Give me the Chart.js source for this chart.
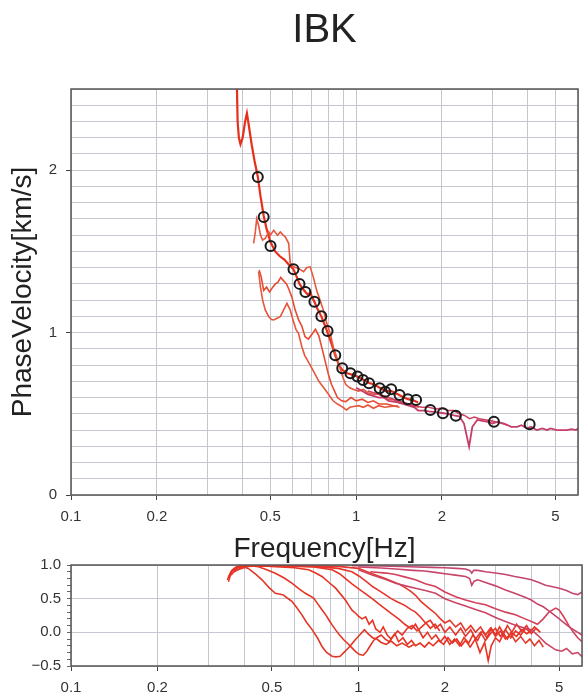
<!DOCTYPE html>
<html><head><meta charset="utf-8">
<script src="https://cdn.jsdelivr.net/npm/chart.js@4"></script>
<style>
html,body{margin:0;padding:0;background:#fff;}
#wrap{position:relative;width:585px;height:700px;overflow:hidden;}
#c1{position:absolute;left:0;top:0;}
#c2{position:absolute;left:0;top:530px;}
</style></head><body>
<div id="wrap"><canvas id="c1" width="585" height="566"></canvas><canvas id="c2" width="585" height="170"></canvas></div>
<script>
// ---------- axis ticks ----------
const xGridValues = [0.1,0.2,0.3,0.4,0.5,0.6,0.7,0.8,0.9,1,2,3,4,5,6];
const xLabeledValues = [0.1,0.2,0.5,1,2,5];
const xTickLabels = ['0.1','0.2','0.5','1','2','5'];
const yTopLabeledValues = [0,1,2];
const yTopTickLabels = ['0','1','2'];
const yBotLabeledValues = [-0.5,0,0.5,1.0];
const yBotTickLabels = ['\u22120.5','0.0','0.5','1.0'];

// ---------- phase velocity: observed points [Hz, km/s] ----------
const observedPoints = [
 [0.452,1.958],[0.474,1.712],[0.501,1.533],[0.603,1.39],[0.633,1.30],[0.664,1.25],[0.714,1.19],
 [0.755,1.10],[0.794,1.01],[0.845,0.86],[0.894,0.78],[0.955,0.749],[1.011,0.729],[1.057,0.708],
 [1.110,0.688],[1.209,0.657],[1.265,0.636],[1.327,0.651],[1.420,0.616],[1.518,0.589],[1.623,0.585],
 [1.821,0.523],[2.015,0.503],[2.237,0.488],[3.043,0.451],[4.06,0.435]
];
// ---------- phase velocity curves [Hz, km/s] ----------
const pvCurveA = [
 [0.382,2.5],[0.384,2.30],[0.388,2.20],[0.393,2.16],[0.40,2.20],[0.408,2.30],[0.414,2.35],[0.42,2.28],
 [0.43,2.16],[0.44,2.06],[0.452,1.96],[0.462,1.84],[0.474,1.72],[0.485,1.64],[0.50,1.56],[0.52,1.50],
 [0.54,1.47],[0.56,1.45],[0.58,1.42],[0.603,1.39],[0.62,1.34],[0.633,1.30],[0.65,1.27],[0.664,1.25],
 [0.68,1.23],[0.69,1.25],[0.70,1.22],[0.714,1.19],[0.73,1.15],[0.755,1.10],[0.775,1.05],[0.794,1.00],
 [0.82,0.93],[0.845,0.86],[0.87,0.80],[0.894,0.77],[0.93,0.75],[0.97,0.74],[1.01,0.73],[1.06,0.71],
 [1.11,0.69],[1.16,0.68],[1.21,0.66],[1.27,0.64],[1.33,0.64],[1.40,0.62],[1.47,0.60],[1.52,0.59],
 [1.60,0.58],[1.65,0.57]
];
const pvCurveB = [
 [0.437,1.55],[0.443,1.62],[0.448,1.70],[0.455,1.66],[0.462,1.60],[0.47,1.57],[0.48,1.58],[0.494,1.62],
 [0.50,1.60],[0.514,1.63],[0.53,1.60],[0.542,1.62],[0.555,1.60],[0.564,1.59],[0.58,1.55],[0.587,1.43],
 [0.603,1.405],[0.628,1.395],[0.654,1.375],[0.671,1.40],[0.69,1.405],[0.708,1.34],[0.727,1.26],
 [0.747,1.20],[0.767,1.14],[0.788,1.06],[0.81,1.0],[0.832,0.91],[0.854,0.85],[0.878,0.78],[0.90,0.72],
 [0.92,0.68],[0.95,0.66],[0.98,0.65],[1.02,0.64],[1.06,0.65],[1.10,0.63],[1.15,0.62],[1.2,0.62],
 [1.25,0.60],[1.3,0.59],[1.36,0.585],[1.42,0.57],[1.5,0.56],[1.58,0.55],[1.66,0.54]
];
const pvCurveC = [
 [0.457,1.385],[0.465,1.34],[0.474,1.26],[0.485,1.28],[0.497,1.25],[0.51,1.28],[0.521,1.30],[0.532,1.31],
 [0.544,1.34],[0.556,1.32],[0.57,1.30],[0.58,1.27],[0.595,1.22],[0.611,1.14],[0.628,1.08],[0.645,1.04],
 [0.662,0.975],[0.68,0.96],[0.70,0.99],[0.72,1.02],[0.74,0.98],[0.76,0.90],[0.78,0.82],[0.80,0.74],
 [0.82,0.68],[0.84,0.64],[0.86,0.60],[0.89,0.58],[0.92,0.575],[0.96,0.60],[1.0,0.58],[1.05,0.59],
 [1.1,0.57],[1.15,0.58],[1.2,0.56],[1.28,0.56],[1.35,0.55],[1.42,0.54]
];
const pvCurveD = [
 [0.455,1.375],[0.462,1.28],[0.47,1.20],[0.48,1.14],[0.494,1.098],[0.505,1.08],[0.514,1.078],[0.53,1.09],
 [0.542,1.098],[0.557,1.14],[0.572,1.18],[0.587,1.14],[0.60,1.08],[0.615,1.02],[0.628,0.996],[0.645,0.913],
 [0.66,0.86],[0.68,0.82],[0.70,0.78],[0.72,0.74],[0.74,0.70],[0.77,0.66],[0.80,0.62],[0.83,0.58],
 [0.86,0.56],[0.9,0.54],[0.925,0.523],[0.95,0.54],[0.98,0.545],[1.02,0.55],[1.06,0.54],[1.1,0.554],
 [1.15,0.534],[1.2,0.55],[1.26,0.54],[1.32,0.545],[1.4,0.55]
];
const pvCurveG = [
 [1.0,0.66],[1.05,0.64],[1.1,0.62],[1.15,0.61],[1.2,0.60],[1.25,0.60],[1.3,0.58],[1.35,0.575],[1.4,0.57],
 [1.5,0.555],[1.6,0.54],[1.65,0.52],[1.72,0.52],[1.8,0.515],[1.9,0.51],[2.0,0.505],[2.1,0.50],[2.2,0.49],
 [2.3,0.485],[2.39,0.44],[2.49,0.297],[2.556,0.42],[2.66,0.462],[2.8,0.455],[2.9,0.45],[3.0,0.44],
 [3.13,0.45],[3.3,0.44],[3.5,0.42],[3.67,0.42],[3.8,0.43],[3.98,0.41],[4.1,0.42],[4.3,0.40],[4.5,0.41],
 [4.67,0.40],[4.8,0.41],[5.06,0.40],[5.3,0.40],[5.48,0.40],[5.7,0.405],[5.9,0.40],[6.0,0.41]
];
const pvCurveH = [
 [1.1,0.64],[1.2,0.62],[1.3,0.60],[1.4,0.58],[1.5,0.565],[1.6,0.55],[1.7,0.54],[1.8,0.54],[1.9,0.53],
 [2.0,0.535],[2.1,0.52],[2.2,0.52],[2.3,0.50],[2.4,0.49],[2.5,0.47],[2.6,0.48],[2.7,0.47],[2.8,0.465],
 [3.0,0.455],[3.2,0.445],[3.4,0.43]
];

// ---------- coherence curves [Hz, value] ----------
const cohR1 = [
 [0.353,0.75],[0.363,0.92],[0.375,0.97],[0.39,0.98],[0.414,0.95],[0.44,0.86],[0.462,0.78],[0.49,0.66],
 [0.514,0.58],[0.53,0.57],[0.548,0.556],[0.565,0.51],[0.587,0.46],[0.61,0.37],[0.636,0.26],[0.66,0.15],
 [0.69,0.04],[0.72,-0.08],[0.747,-0.21],[0.775,-0.30],[0.81,-0.355],[0.835,-0.365],[0.864,-0.355],
 [0.90,-0.28],[0.938,-0.20],[0.97,-0.12],[0.99,-0.08],[1.02,-0.02],[1.05,0.04],[1.08,-0.02],[1.12,-0.08],
 [1.16,-0.1],[1.2,-0.15],[1.25,-0.18],[1.3,-0.13],[1.36,-0.2],[1.42,-0.16],[1.5,-0.22],[1.56,-0.18]
];
const cohR2 = [
 [0.35,0.78],[0.36,0.9],[0.38,0.97],[0.42,0.99],[0.449,0.975],[0.48,0.93],[0.514,0.877],[0.55,0.81],
 [0.587,0.73],[0.62,0.65],[0.654,0.58],[0.699,0.51],[0.72,0.43],[0.747,0.335],[0.77,0.26],[0.788,0.19],
 [0.81,0.11],[0.832,0.04],[0.86,-0.04],[0.889,-0.11],[0.92,-0.17],[0.95,-0.23],[0.98,-0.29],[1.01,-0.33],
 [1.04,-0.34],[1.07,-0.28],[1.1,-0.2],[1.13,-0.12],[1.16,-0.08],[1.2,-0.04],[1.24,-0.1],[1.28,-0.14],
 [1.32,-0.06],[1.37,0.02],[1.42,-0.04],[1.48,0.06],[1.54,0.1],[1.6,0.02],[1.66,0.08],[1.72,0.14],
 [1.78,0.06],[1.85,0.12],[1.92,0.02]
];
const cohR3 = [
 [0.353,0.82],[0.365,0.93],[0.383,0.985],[0.45,0.99],[0.514,0.975],[0.6,0.96],[0.671,0.93],[0.71,0.88],
 [0.747,0.83],[0.79,0.74],[0.832,0.66],[0.87,0.56],[0.901,0.48],[0.93,0.39],[0.95,0.33],[0.98,0.28],
 [1.0,0.24],[1.03,0.2],[1.06,0.23],[1.09,0.12],[1.12,0.18],[1.15,0.05],[1.19,0.0],[1.22,0.08],[1.26,-0.04],
 [1.3,-0.1],[1.34,-0.02],[1.38,-0.14],[1.43,-0.08],[1.48,-0.18],[1.53,-0.12],[1.58,-0.2],[1.64,-0.16],
 [1.7,-0.22],[1.76,-0.15],[1.82,-0.2],[1.9,-0.12],[1.98,-0.18],[2.05,-0.08],[2.12,-0.16],[2.2,-0.1],
 [2.28,-0.2],[2.36,-0.12],[2.45,-0.22],[2.55,-0.1],[2.65,-0.3],[2.75,-0.15],[2.83,-0.42],[2.9,-0.2],
 [3.0,-0.08],[3.1,-0.14],[3.2,-0.02],[3.3,-0.1],[3.4,0.0],[3.55,-0.06],[3.7,0.04],[3.85,-0.02],[4.0,0.02]
];
const cohR4 = [
 [0.36,0.85],[0.38,0.96],[0.42,0.99],[0.55,0.985],[0.7,0.97],[0.81,0.93],[0.86,0.87],[0.9,0.8],[0.95,0.72],
 [1.0,0.65],[1.06,0.57],[1.117,0.5],[1.18,0.42],[1.24,0.35],[1.3,0.28],[1.38,0.2],[1.45,0.12],[1.53,0.05],
 [1.58,0.12],[1.63,0.02],[1.68,-0.08],[1.74,0.0],[1.8,-0.1],[1.86,-0.04],[1.93,-0.14],[2.0,-0.06],
 [2.08,-0.18],[2.16,-0.1],[2.25,-0.2],[2.33,-0.08],[2.42,-0.16],[2.5,-0.04],[2.6,-0.12],[2.7,0.02],
 [2.8,-0.08],[2.9,0.06],[3.0,-0.04],[3.1,0.08],[3.2,-0.02],[3.3,0.1],[3.42,0.0],[3.55,0.12],[3.7,0.02],
 [3.85,0.1],[4.0,-0.02],[4.15,0.06],[4.3,0.0]
];
const cohR5 = [
 [0.37,0.9],[0.4,0.98],[0.5,0.99],[0.7,0.98],[0.85,0.95],[0.95,0.9],[1.01,0.83],[1.07,0.75],[1.12,0.68],
 [1.18,0.62],[1.24,0.56],[1.3,0.5],[1.37,0.45],[1.45,0.4],[1.52,0.34],[1.58,0.3],[1.65,0.22],[1.712,0.14],
 [1.78,0.18],[1.855,0.06],[1.93,0.12],[2.0,0.0],[2.08,0.08],[2.18,-0.04],[2.27,0.06],[2.36,-0.06],
 [2.46,0.04],[2.557,-0.1],[2.66,0.0],[2.77,-0.12],[2.88,-0.02],[3.0,0.06],[3.12,-0.06],[3.25,0.04],
 [3.39,-0.08],[3.525,0.02],[3.67,-0.04],[3.82,0.06],[3.95,0.0],[4.1,0.08],[4.25,0.02]
];
const cohR6 = [
 [0.38,0.93],[0.42,0.99],[0.6,0.99],[0.85,0.98],[1.0,0.95],[1.117,0.87],[1.24,0.8],[1.38,0.72],[1.46,0.66],
 [1.53,0.6],[1.58,0.55],[1.65,0.46],[1.712,0.4],[1.78,0.34],[1.855,0.28],[1.93,0.2],[2.0,0.14],[2.08,0.18],
 [2.18,0.08],[2.27,0.14],[2.36,0.02],[2.46,0.1],[2.557,0.0],[2.66,0.08],[2.77,-0.04],[2.88,0.06],
 [3.0,-0.06],[3.12,0.02],[3.25,-0.1],[3.39,-0.02],[3.525,-0.14],[3.67,-0.06],[3.82,-0.16],[3.95,-0.1],
 [4.1,-0.2],[4.25,-0.12],[4.4,-0.22]
];
const cohM1 = [
 [0.95,0.99],[1.2,0.985],[1.5,0.975],[1.8,0.965],[2.0,0.96],[2.2,0.95],[2.36,0.94],[2.44,0.92],[2.48,0.88],
 [2.52,0.92],[2.6,0.92],[2.77,0.9],[3.0,0.88],[3.25,0.86],[3.5,0.83],[3.82,0.8],[4.0,0.78],[4.25,0.74],
 [4.48,0.7],[4.7,0.68],[5.0,0.655],[5.3,0.62],[5.55,0.58],[5.8,0.56],[6.0,0.6]
];
const cohM2 = [
 [1.0,0.97],[1.2,0.955],[1.35,0.94],[1.55,0.92],[1.7,0.91],[1.85,0.89],[2.0,0.87],[2.18,0.85],[2.36,0.83],
 [2.44,0.8],[2.48,0.7],[2.53,0.76],[2.6,0.78],[2.77,0.74],[3.0,0.69],[3.25,0.63],[3.5,0.58],[3.8,0.52],
 [4.0,0.48],[4.2,0.42],[4.4,0.38],[4.6,0.32],[4.8,0.26],[5.0,0.2],[5.2,0.14],[5.5,0.06],[5.8,0.0],[6.0,-0.04]
];
const cohM3 = [
 [1.0,0.93],[1.117,0.85],[1.24,0.79],[1.346,0.73],[1.46,0.69],[1.58,0.655],[1.71,0.62],[1.855,0.58],
 [2.0,0.5],[2.18,0.44],[2.36,0.39],[2.557,0.34],[2.77,0.29],[3.0,0.22],[3.25,0.16],[3.5,0.11],[3.8,0.06],
 [4.0,0.04],[4.2,-0.04],[4.48,-0.16],[4.7,-0.22],[4.86,-0.26],[5.1,-0.28],[5.3,-0.24],[5.55,-0.32],
 [5.8,-0.3],[6.0,-0.36]
];
const cohM4 = [
 [1.1,0.9],[1.25,0.88],[1.346,0.86],[1.458,0.82],[1.58,0.78],[1.71,0.72],[1.855,0.68],[2.0,0.6],[2.18,0.53],
 [2.36,0.48],[2.557,0.44],[2.77,0.41],[3.0,0.35],[3.25,0.3],[3.52,0.26],[3.8,0.2],[4.0,0.16],[4.2,0.12],
 [4.4,0.2],[4.6,0.3],[4.86,0.36],[5.0,0.33],[5.2,0.22],[5.4,0.1],[5.6,0.0],[5.8,-0.08],[6.0,-0.14]
];

// ---------- helpers ----------
const FONT = "'Liberation Sans', Arial, Helvetica, sans-serif";
const GRID = '#c4c7d0';
const FRAME = '#555';
const toXY = arr => arr.map(p => ({x: p[0], y: p[1]}));
const near = (a, b) => Math.abs(a - b) < 1e-6;
const labelFor = (vals, labels, v) => { const i = vals.findIndex(t => near(t, v)); return i < 0 ? '' : labels[i]; };
const isIn = (vals, v) => vals.some(t => near(t, v));
const lineDs = (arr, color, w) => ({data: toXY(arr), borderColor: color, borderWidth: w, pointRadius: 0, tension: 0, fill: false, order: 1});

const framePlugin = { id: 'frame', afterDatasetsDraw(chart) {
  const {ctx, chartArea: a} = chart; ctx.save(); ctx.strokeStyle = FRAME; ctx.lineWidth = 1.5;
  ctx.strokeRect(a.left, a.top, a.right - a.left, a.bottom - a.top); ctx.restore(); } };

const xScale = (withTitle) => ({
  type: 'logarithmic', min: 0.1, max: 6, position: 'bottom',
  afterBuildTicks: s => { s.ticks = xGridValues.map(v => ({value: v})); },
  ticks: { autoSkip: false, maxRotation: 0, minRotation: 0, padding: 8, color: '#333',
    font: {family: FONT, size: 15}, callback: v => labelFor(xLabeledValues, xTickLabels, v) },
  grid: { color: GRID, lineWidth: 1, tickLength: 5,
    tickColor: c => (c.tick && isIn(xLabeledValues, c.tick.value)) ? '#444' : 'rgba(0,0,0,0)' },
  border: { display: false },
  title: withTitle ? { display: true, text: 'Frequency[Hz]', color: '#222',
    font: {family: FONT, size: 28, weight: 'normal'}, padding: {top: 0, bottom: 0} } : {display: false},
  afterFit: s => { s.height = withTitle ? 71 : 34; s.paddingRight = 0; }
});

// ---------- top chart: phase velocity ----------
const yTopGrid = []; for (let i = 0; i <= 25; i++) yTopGrid.push(i / 10);
new Chart(document.getElementById('c1'), {
  type: 'line',
  data: { datasets: [
    { data: toXY(observedPoints), showLine: false, pointRadius: 5, pointHoverRadius: 5,
      pointBorderColor: '#1a1a1a', pointBackgroundColor: 'rgba(0,0,0,0)', pointBorderWidth: 2, order: 0 },
    lineDs(pvCurveG, '#c63c68', 1.8),
    lineDs(pvCurveH, '#cf4262', 1.6),
    lineDs(pvCurveD, '#e8553a', 1.6),
    lineDs(pvCurveC, '#e84a30', 1.6),
    lineDs(pvCurveB, '#e9563c', 1.6),
    lineDs(pvCurveA, '#e6301c', 2.2)
  ]},
  options: {
    responsive: false, animation: false, devicePixelRatio: 1,
    layout: { padding: {left: 0, right: 3, top: 0, bottom: 0} },
    plugins: { legend: {display: false}, tooltip: {enabled: false},
      title: { display: true, text: 'IBK', fullSize: false, color: '#222',
        font: {family: FONT, size: 40, weight: 'normal'}, padding: {top: 7, bottom: 34} } },
    scales: {
      x: xScale(true),
      y: { type: 'linear', min: 0, max: 2.5, position: 'left',
        afterBuildTicks: s => { s.ticks = yTopGrid.map(v => ({value: v})); },
        ticks: { autoSkip: false, padding: 9, color: '#333', font: {family: FONT, size: 15},
          callback: v => labelFor(yTopLabeledValues, yTopTickLabels, v) },
        grid: { color: GRID, lineWidth: 1, tickLength: 5,
          tickColor: c => (c.tick && isIn(yTopLabeledValues, c.tick.value)) ? '#444' : 'rgba(0,0,0,0)' },
        border: { display: false },
        title: { display: true, text: 'PhaseVelocity[km/s]', color: '#222',
          font: {family: FONT, size: 28, weight: 'normal'}, padding: {top: 6, bottom: 0} },
        afterFit: s => { s.width = 71; } }
    }
  },
  plugins: [framePlugin]
});

// ---------- bottom chart: coherence ----------
const yBotGrid = []; for (let i = -5; i <= 10; i++) yBotGrid.push(i / 10);
new Chart(document.getElementById('c2'), {
  type: 'line',
  data: { datasets: [
    lineDs(cohM1, '#c4466e', 1.6),
    lineDs(cohM2, '#c8456a', 1.6),
    lineDs(cohM3, '#cc4464', 1.6),
    lineDs(cohM4, '#d4405a', 1.6),
    lineDs(cohR6, '#e3382a', 1.6),
    lineDs(cohR5, '#e6352a', 1.6),
    lineDs(cohR4, '#e83426', 1.6),
    lineDs(cohR3, '#e93222', 1.6),
    lineDs(cohR2, '#e63424', 1.6),
    lineDs(cohR1, '#e43626', 1.6)
  ]},
  options: {
    responsive: false, animation: false, devicePixelRatio: 1,
    layout: { padding: {left: 0, right: 3, top: 35, bottom: 0} },
    plugins: { legend: {display: false}, tooltip: {enabled: false}, title: {display: false} },
    scales: {
      x: xScale(false),
      y: { type: 'linear', min: -0.5, max: 1.0, position: 'left',
        afterBuildTicks: s => { s.ticks = yBotGrid.map(v => ({value: v})); },
        ticks: { autoSkip: false, padding: 6, color: '#333', font: {family: FONT, size: 15},
          callback: v => labelFor(yBotLabeledValues, yBotTickLabels, v) },
        grid: { lineWidth: 1, tickLength: 4, tickColor: '#666',
          color: c => (c.tick && isIn(yBotLabeledValues, c.tick.value)) ? GRID : 'rgba(0,0,0,0)' },
        border: { display: false },
        afterFit: s => { s.width = 71; } }
    }
  },
  plugins: [framePlugin]
});
</script>
</body></html>
